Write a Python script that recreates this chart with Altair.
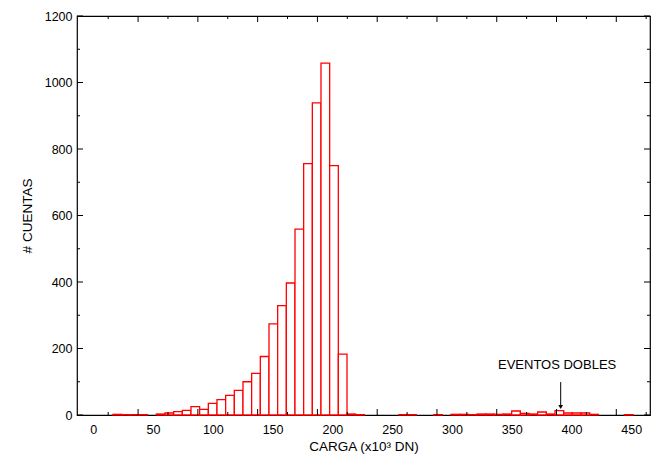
import altair as alt
import pandas as pd

# Histogram definition (bin start / width in x10^3 DN) and counts
BIN_START = 16.5
BIN_WIDTH = 7.25
counts = [2, 1, 1, 1, 0, 3, 6, 10, 14, 25,
          17, 35, 46, 59, 74, 100, 125, 176, 274, 329,
          397, 559, 756, 939, 1058, 750, 183, 3, 1, 0,
          0, 0, 0, 1, 1, 0, 0, 1, 0, 2,
          2, 1, 3, 3, 2, 3, 12, 5, 3, 9,
          3, 13, 6, 6, 6, 2, 0, 0, 0, 1]

x_labels = [0, 50, 100, 150, 200, 250, 300, 350, 400, 450]
y_labels = [0, 200, 400, 600, 800, 1000, 1200]
x_major_ticks = [37.5, 87.5, 137.5, 187.5, 237.5, 287.5, 337.5, 387.5, 437.5]
x_minor_ticks = [12.5, 62.5, 112.5, 162.5, 212.5, 262.5, 312.5, 362.5, 412.5, 462.5]
y_minor_ticks = [100, 300, 500, 700, 900, 1100]

annot_text = ["EVENTOS DOBLES"]
annot_x = [388]
annot_y = [150]
arrow_x = [391]
arrow_top = [99]
arrow_tip = [24]

W, H = 573, 399
FONT = "Liberation Sans"
XTITLE = "CARGA (x10³ DN)"
YTITLE = "# CUENTAS"

df = pd.DataFrame({"lo": [BIN_START + i * BIN_WIDTH for i in range(len(counts))], "n": counts})
df["hi"] = df["lo"] + BIN_WIDTH
df = df[df["n"] > 0]

xs = alt.Scale(domain=[-13.6, 465.7], nice=False, zero=False)
ys = alt.Scale(domain=[0, 1200], nice=False, zero=True)

xaxis = alt.Axis(values=x_labels, format="d", tickSize=0, labelPadding=8,
                 grid=False, domain=False, labelFontSize=12.5, titleFontSize=13.5,
                 titleFontWeight="normal", titlePadding=4, labelFont=FONT, titleFont=FONT,
                 labelColor="black", titleColor="black")
yaxis = alt.Axis(values=y_labels, format="d", tickSize=0, labelPadding=5,
                 grid=False, domain=False, labelFontSize=12.5, titleFontSize=13.5,
                 titleFontWeight="normal", titlePadding=10, labelFont=FONT, titleFont=FONT,
                 labelColor="black", titleColor="black")


def X(field):
    return alt.X(field, scale=xs, axis=xaxis, title=XTITLE)


def Y(field):
    return alt.Y(field, scale=ys, axis=yaxis, title=YTITLE)


bars = alt.Chart(df).mark_rect(fill="white", stroke="#ff0000", strokeWidth=1.3).encode(
    x=X("lo:Q"), x2="hi:Q", y=Y("n:Q"), y2=alt.value(H),
)

xmaj = pd.DataFrame({"v": x_major_ticks})
xmin = pd.DataFrame({"v": x_minor_ticks})
ymaj = pd.DataFrame({"v": y_labels})
ymin = pd.DataFrame({"v": y_minor_ticks})


def xticks(d, length):
    b = alt.Chart(d).mark_rule(color="black", strokeWidth=1).encode(
        x=X("v:Q"), y=alt.value(H), y2=alt.value(H - length))
    t = alt.Chart(d).mark_rule(color="black", strokeWidth=1).encode(
        x=X("v:Q"), y=alt.value(0), y2=alt.value(length))
    return b + t


def yticks(d, length):
    l = alt.Chart(d).mark_rule(color="black", strokeWidth=1).encode(
        y=Y("v:Q"), x=alt.value(0), x2=alt.value(length))
    r = alt.Chart(d).mark_rule(color="black", strokeWidth=1).encode(
        y=Y("v:Q"), x=alt.value(W), x2=alt.value(W - length))
    return l + r


adf = pd.DataFrame({"t": annot_text, "x": annot_x, "y": annot_y})
text = alt.Chart(adf).mark_text(font=FONT, fontSize=13, color="black",
                                align="center", baseline="middle").encode(
    x=X("x:Q"), y=Y("y:Q"), text="t:N")

arr = pd.DataFrame({"x": arrow_x, "y1": arrow_top, "y2": arrow_tip})
arrow_line = alt.Chart(arr).mark_rule(color="black", strokeWidth=1).encode(
    x=X("x:Q"), y=Y("y1:Q"), y2="y2:Q")
arrow_head = alt.Chart(arr).mark_point(shape="triangle-down", filled=True, color="black",
                                       size=22, opacity=1).encode(
    x=X("x:Q"), y=Y("y2:Q"))

chart = alt.layer(
    bars,
    xticks(xmaj, 6), xticks(xmin, 3),
    yticks(ymaj, 6), yticks(ymin, 3),
    arrow_line, arrow_head, text,
).properties(
    width=W, height=H,
    padding={"left": 77, "top": 16, "right": 2, "bottom": 41},
    autosize=alt.AutoSizeParams(type="none"),
    background="white",
).configure_view(stroke="black", strokeWidth=1.2)

chart.save("out.html", embed_options={"renderer": "svg", "actions": False})
